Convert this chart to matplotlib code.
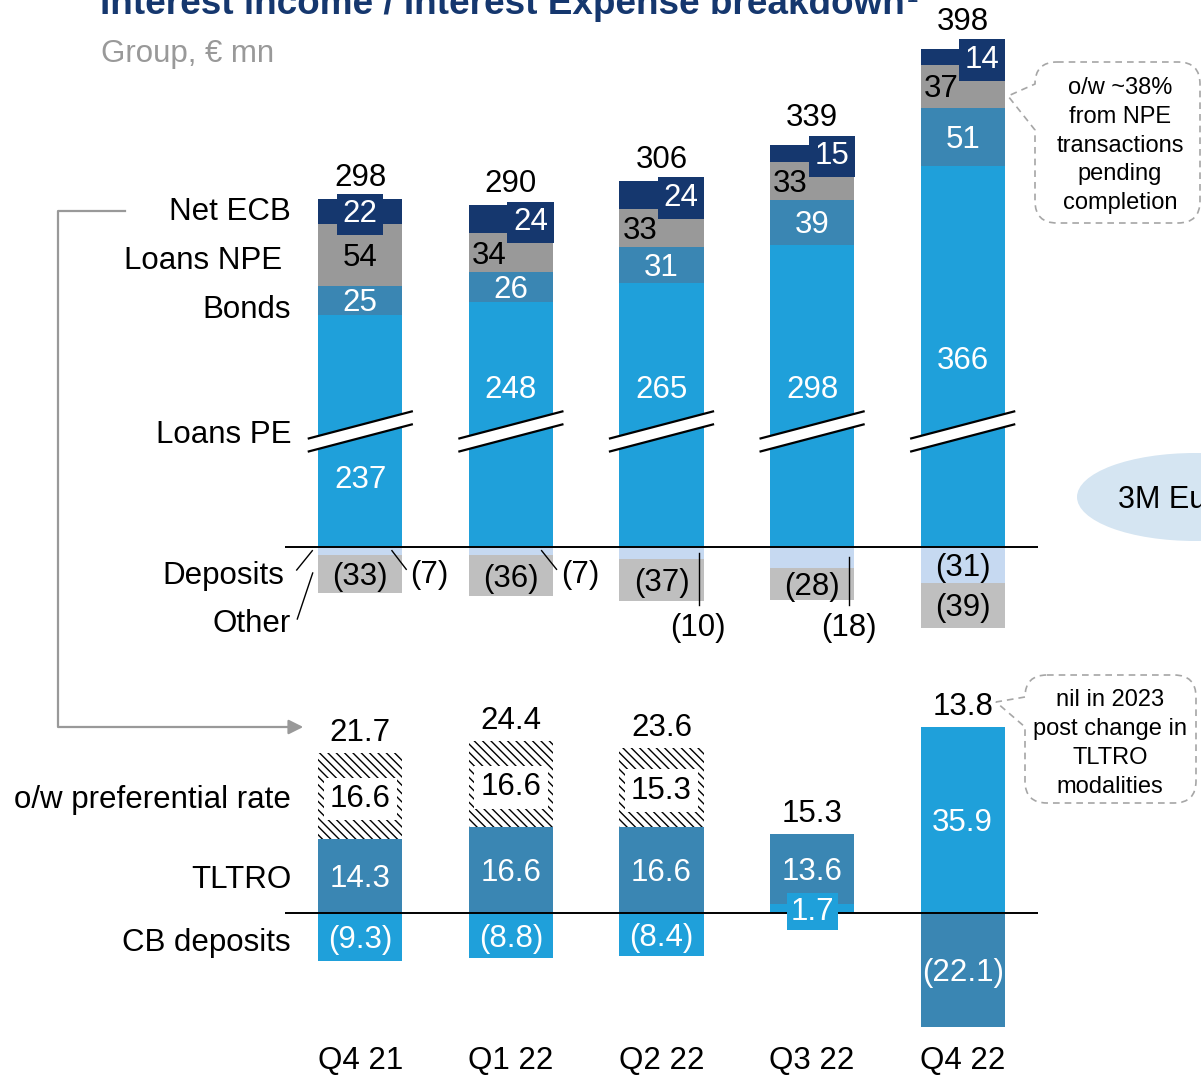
import numpy as np
import matplotlib
matplotlib.use("Agg")
import matplotlib.pyplot as plt
import matplotlib.transforms as mtransforms
from matplotlib.path import Path
from matplotlib.patches import PathPatch, Ellipse, Polygon
from matplotlib.lines import Line2D

plt.rcParams['font.family'] = ['Liberation Sans', 'DejaVu Sans']
plt.rcParams['hatch.linewidth'] = 1.0

quarters = ["Q4 21", "Q1 22", "Q2 22", "Q3 22", "Q4 22"]

# interest income / expense components, € mn
loans_pe = [237, 248, 265, 298, 366]
bonds = [25, 26, 31, 39, 51]
loans_npe = [54, 34, 33, 33, 37]
net_ecb = [22, 24, 24, 15, 14]
deposits = [-7, -7, -10, -18, -31]
other = [-33, -36, -37, -28, -39]
nii_total = [298, 290, 306, 339, 398]

# net ECB breakdown, € mn
cb_deposits = [-9.3, -8.8, -8.4, 1.7, 35.9]
tltro = [14.3, 16.6, 16.6, 13.6, -22.1]
preferential = [16.6, 16.6, 15.3, 0, 0]
ecb_total = [21.7, 24.4, 23.6, 15.3, 13.8]

NAVY = '#15376e'
NPE_GREY = '#999999'
STEEL = '#3a86b3'
BLUE = '#1fa0da'
LIGHT = '#c6d9f1'
OTHER_GREY = '#bfbfbf'
LINE_GREY = '#999999'
FS = 22.5

W, H = 1201, 1076
fig = plt.figure(figsize=(W / 100, H / 100), dpi=100)

# nudge centred labels down a little so the digits sit on the centre line
NUDGE = mtransforms.ScaledTranslation(0, -3 / 100, fig.dpi_scale_trans)


def fx(x):
    return x / W


def fy(y):
    return 1 - y / H


def ftext(x, y, s, **kw):
    kw.setdefault('fontsize', FS)
    kw.setdefault('va', 'center')
    fig.text(fx(x), fy(y + 3), s, **kw)


def fmt(v, nd=0):
    s = f"{abs(v):.{nd}f}"
    return f"({s})" if v < 0 else s


# broken y axis for the top panel: 100..136 squeezed into one unit
CUT_LO, CUT_HI, GAP = 100.0, 136.0, 1.0


def fwd(y):
    y = np.asarray(y, float)
    return np.where(y <= CUT_LO, y,
                    np.where(y >= CUT_HI, y - (CUT_HI - CUT_LO) + GAP,
                             CUT_LO + (y - CUT_LO) * GAP / (CUT_HI - CUT_LO)))


def inv(t):
    t = np.asarray(t, float)
    return np.where(t <= CUT_LO, t,
                    np.where(t >= CUT_LO + GAP, t + (CUT_HI - CUT_LO) - GAP,
                             CUT_LO + (t - CUT_LO) * (CUT_HI - CUT_LO) / GAP))


X_LEFT, X_RIGHT = 285, 1038
TOP_ZERO, TOP_SCALE = 547, 1.15
top_lim = (-85, 500)
t_hi = float(fwd(top_lim[1]))
ax1 = fig.add_axes([fx(X_LEFT), fy(TOP_ZERO - top_lim[0] * TOP_SCALE),
                    (X_RIGHT - X_LEFT) / W,
                    (t_hi - top_lim[0]) * TOP_SCALE / H])
ax1.set_yscale('function', functions=(fwd, inv))
ax1.set_ylim(*top_lim)
ax1.set_xlim(-0.5, 4.5)

BOT_ZERO, BOT_SCALE = 913, 5.17
bot_lim = (-24, 45)
ax2 = fig.add_axes([fx(X_LEFT), fy(BOT_ZERO - bot_lim[0] * BOT_SCALE),
                    (X_RIGHT - X_LEFT) / W,
                    (bot_lim[1] - bot_lim[0]) * BOT_SCALE / H])
ax2.set_ylim(*bot_lim)
ax2.set_xlim(-0.5, 4.5)

for ax in (ax1, ax2):
    for sp in ax.spines.values():
        sp.set_visible(False)
    ax.set_yticks([])
    ax.axhline(0, color='black', lw=1.4, zorder=5)
ax1.set_xticks([])
ax2.set_xticks(range(len(quarters)), quarters)
ax2.tick_params(axis='x', length=0, pad=6.5, labelsize=FS)

x = np.arange(len(quarters))
BAR_W = 0.558


def label(ax, xv, yv, s, **kw):
    kw.setdefault('fontsize', FS)
    kw.setdefault('ha', 'center')
    kw.setdefault('va', 'center')
    kw.setdefault('zorder', 6)
    ax.text(xv, yv, s, transform=ax.transData + NUDGE, **kw)


def stack(ax, series):
    pos = np.zeros(len(x))
    neg = np.zeros(len(x))
    bases = []
    for vals, color, hatch in series:
        vals = np.asarray(vals, float)
        base = np.where(vals >= 0, pos, neg)
        if hatch:
            ax.bar(x, vals, BAR_W, bottom=base, color='white', edgecolor='black',
                   hatch=hatch, lw=0, zorder=2)
        else:
            ax.bar(x, vals, BAR_W, bottom=base, color=color, lw=0, zorder=2)
        bases.append(base)
        pos += np.clip(vals, 0, None)
        neg += np.clip(vals, None, 0)
    return bases, pos


# ---- top panel: NII components ----
top_series = [(loans_pe, BLUE, None), (bonds, STEEL, None), (loans_npe, NPE_GREY, None),
              (net_ecb, NAVY, None), (deposits, LIGHT, None), (other, OTHER_GREY, None)]
(b_pe, b_bonds, b_npe, b_ecb, b_dep, b_oth), top_pos = stack(ax1, top_series)

# axis-break marks across each bar
BREAK_Y = 118
for xc in x:
    tr = fig.dpi_scale_trans + mtransforms.ScaledTranslation(xc, BREAK_Y, ax1.transData)
    up = [(-0.515, -0.07), (0.515, 0.20)]
    lo = [(-0.515, -0.20), (0.515, 0.07)]
    ax1.add_patch(Polygon(up + lo[::-1], closed=True, transform=tr, fc='white', ec='none',
                          zorder=3, clip_on=False))
    for seg in (up, lo):
        ax1.add_line(Line2D([p[0] for p in seg], [p[1] for p in seg], transform=tr,
                            color='black', lw=1.6, zorder=4, clip_on=False))

loans_pe_label_y = [61, 174, 174, 174, 199]
total_offset = [21, 21, 21, 26, 27]
for i in x:
    label(ax1, i, loans_pe_label_y[i], fmt(loans_pe[i]), color='white')
    label(ax1, i, b_bonds[i] + bonds[i] / 2, fmt(bonds[i]), color='white')
    if i == 0:
        label(ax1, i, b_npe[i] + loans_npe[i] / 2, fmt(loans_npe[i]))
        ecb_x = i
    else:
        label(ax1, i - BAR_W / 2 + 0.02, b_npe[i] + loans_npe[i] / 2, fmt(loans_npe[i]),
              ha='left')
        ecb_x = i + 0.13
    label(ax1, ecb_x, b_ecb[i] + net_ecb[i] / 2, fmt(net_ecb[i]), color='white',
          bbox=dict(boxstyle='square,pad=0.18', fc=NAVY, ec='none'))
    label(ax1, i, b_oth[i] + other[i] / 2, fmt(other[i]))
    ax1.annotate(fmt(nii_total[i]), (i, top_pos[i]), xytext=(0, total_offset[i]),
                 textcoords='offset pixels', ha='center', va='center', fontsize=FS)

# deposit labels: outside with leader lines where the band is thin
dep_leaders = [((0.21, -3.2), (0.305, -19.4), (0.458, -21.7)),
               ((1.204, -3.2), (1.303, -19.4), (1.458, -21.7)),
               ((2.25, -5), (2.25, -50.4), (2.24, -67.8)),
               ((3.248, -8.7), (3.248, -50.4), (3.247, -67.8))]
for i, (p0, p1, pt) in enumerate(dep_leaders):
    ax1.plot([p0[0], p1[0]], [p0[1], p1[1]], color='black', lw=1.0, zorder=6,
             clip_on=False)
    label(ax1, pt[0], pt[1], fmt(deposits[i]))
label(ax1, 4, b_dep[4] + deposits[4] / 2, fmt(deposits[4]))

# ---- bottom panel: net ECB ----
bot_series = [(cb_deposits, BLUE, None), (tltro, STEEL, None),
              (preferential, None, '\\\\\\\\')]
(b_cb, b_tl, b_pref), bot_pos = stack(ax2, bot_series)
for i in x:
    label(ax2, i, b_cb[i] + cb_deposits[i] / 2, fmt(cb_deposits[i], 1), color='white',
          bbox=dict(boxstyle='square,pad=0.12', fc=BLUE, ec='none'))
    label(ax2, i, b_tl[i] + tltro[i] / 2, fmt(tltro[i], 1), color='white')
    if preferential[i] > 0:
        label(ax2, i, b_pref[i] + preferential[i] / 2, fmt(preferential[i], 1),
              bbox=dict(boxstyle='square,pad=0.2', fc='white', ec='none'))
    ax2.annotate(fmt(ecb_total[i], 1), (i, bot_pos[i]), xytext=(0, 20),
                 textcoords='offset pixels', ha='center', va='center', fontsize=FS)

# ---- titles and row labels ----
fig.text(fx(100), fy(14), "Interest income / Interest Expense breakdown",
         fontsize=26.6, fontweight='bold', color=NAVY, va='baseline')
fig.text(fx(907), fy(2), "1", fontsize=14, fontweight='bold', color=NAVY, va='baseline')
fig.text(fx(101), fy(62), "Group, € mn", fontsize=FS, color='#999999', va='baseline')

row_labels = [("Net ECB", 291, 209), ("Loans NPE", 282, 258), ("Bonds", 291, 307),
              ("Loans PE", 291, 432), ("Deposits", 284, 573), ("Other", 291, 621),
              ("o/w preferential rate", 291, 797), ("TLTRO", 291, 877),
              ("CB deposits", 291, 940)]
for s, xr, yc in row_labels:
    ftext(xr, yc, s, ha='right')

fig.add_artist(Line2D([fx(296.7), fx(312.3)], [fy(570), fy(550.7)], color='black', lw=1.0))
fig.add_artist(Line2D([fx(297.3), fx(312.7)], [fy(619), fy(573)], color='black', lw=1.0))

# bracket linking Net ECB to the lower panel
fig.add_artist(Line2D([fx(125), fx(58), fx(58), fx(292)], [fy(211), fy(211), fy(727), fy(727)],
                      color=LINE_GREY, lw=1.6))
ax2.annotate('', xy=(306, H - 727), xytext=(285, H - 727), xycoords='figure pixels',
             textcoords='figure pixels',
             arrowprops=dict(arrowstyle='-|>', color=LINE_GREY, lw=1.6, mutation_scale=22))


def bubble(left, top, right, bottom, r, wedge_top, tip, wedge_bot):
    pts = [(left + r, top), (right - r, top), (right, top), (right, top + r),
           (right, bottom - r), (right, bottom), (right - r, bottom), (left + r, bottom),
           (left, bottom), (left, bottom - r), (left, wedge_bot), tip, (left, wedge_top),
           (left, top), (left + r, top)]
    codes = [Path.MOVETO, Path.LINETO, Path.CURVE3, Path.CURVE3, Path.LINETO, Path.CURVE3,
             Path.CURVE3, Path.LINETO, Path.CURVE3, Path.CURVE3, Path.LINETO, Path.LINETO,
             Path.LINETO, Path.CURVE3, Path.CURVE3]
    verts = [(fx(px), fy(py)) for px, py in pts]
    fig.add_artist(PathPatch(Path(verts, codes), transform=fig.transFigure, fill=False,
                             ec='#a6a6a6', lw=1.2, ls=(0, (4, 3))))


bubble(1035, 62, 1200, 223, 22, 84, (1008, 96), 130)
for s, yc in zip(["o/w ~38%", "from NPE", "transactions", "pending", "completion"],
                 [85, 114, 143, 171, 200]):
    ftext(1120, yc, s, ha='center', fontsize=17)

bubble(1025, 675, 1196, 803, 22, 697, (996, 702), 727)
for s, yc in zip(["nil in 2023", "post change in", "TLTRO", "modalities"],
                 [697, 726, 755, 784]):
    ftext(1110, yc, s, ha='center', fontsize=17)

fig.add_artist(Ellipse((fx(1195), fy(497)), width=236 / W, height=88 / H,
                       transform=fig.transFigure, fc='#d5e5f2', ec='none', zorder=0))
ftext(1118, 497, "3M Euribor", ha='left', fontsize=22)

fig.savefig("out.png", dpi=100)
